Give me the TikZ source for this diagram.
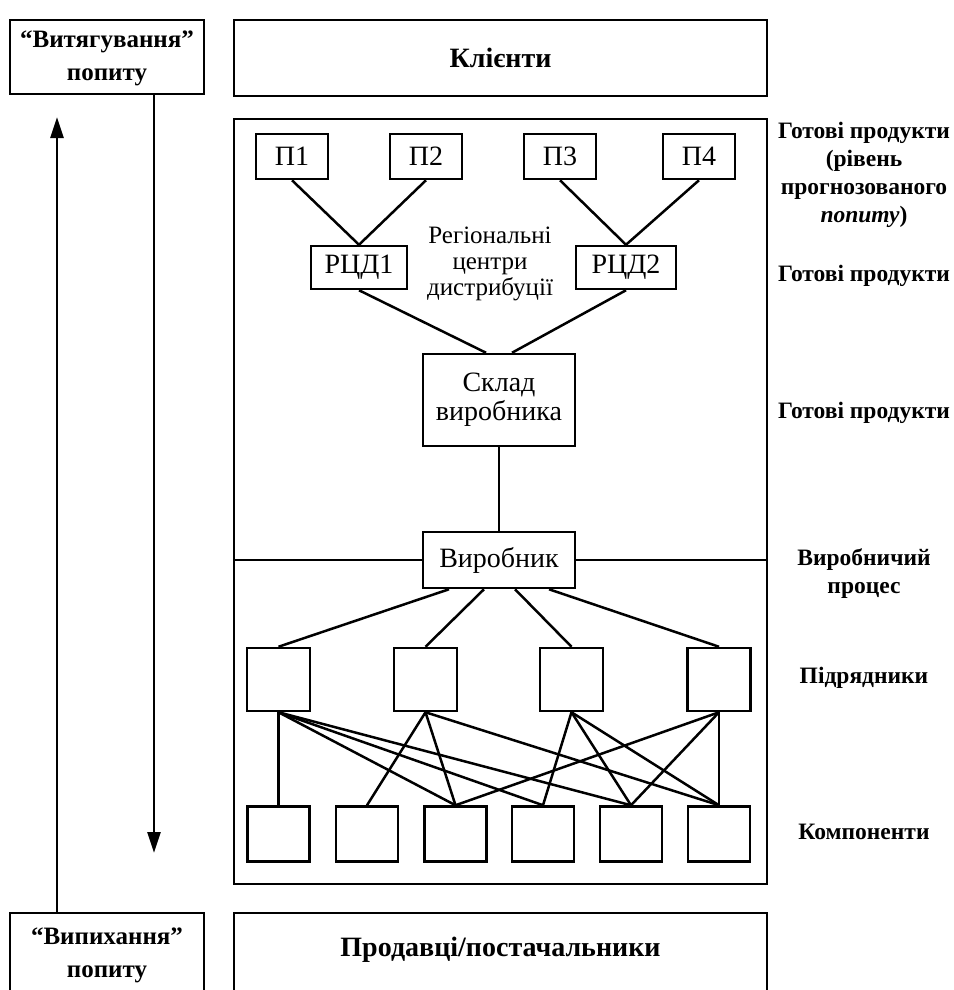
\documentclass[tikz,border=0pt]{standalone}
\usepackage{fontspec}
\setmainfont{Liberation Serif}
\usetikzlibrary{calc,arrows.meta}

\tikzset{
  frame/.style={draw, line width=2.5pt, inner sep=0pt, anchor=center},
  box/.style={frame, font=\fontsize{28}{29}\selectfont, align=center},
  headtext/.style={font=\bfseries\fontsize{25}{33}\selectfont, align=center, inner sep=0pt},
  tag/.style={font=\bfseries\fontsize{23.5}{28}\selectfont, align=center, inner sep=0pt},
  link/.style={line width=2.5pt},
  flow/.style={line width=2.6pt, -{Triangle[length=21pt,width=13pt]}},
}

\begin{document}
\begin{tikzpicture}[x=1pt,y=-1pt]
\useasboundingbox (0,0) rectangle (953,990);
\clip (0,0) rectangle (953,990);

% outer blocks
\node[frame, minimum width=194, minimum height=74] (pull) at (107,57) {};
\node[headtext] (pulltext) at (107,58) {“Витягування”\\попиту};
\node[frame, minimum width=533, minimum height=76] (clients) at (500.5,58) {};
\node[headtext, font=\bfseries\fontsize{28}{33}\selectfont] (clienttext) at (500.5,58) {Клієнти};
\node[frame, minimum width=533, minimum height=765] (main) at (500.5,501.5) {};
\node[frame, minimum width=194, minimum height=84] (push) at (107,955) {};
\node[frame, minimum width=533, minimum height=84] (vendors) at (500.5,955) {};
\node[headtext] (pushtext) at (107,955) {“Випихання”\\попиту};
\node[headtext, font=\bfseries\fontsize{28}{33}\selectfont] (vendtext) at (500.5,950)
  {Продавці/постачальники};

% demand arrows
\coordinate (uptip) at (57,117);
\coordinate (downtip) at (154,853);
\draw[flow] (push.north -| uptip) -- (uptip);
\draw[flow] (pull.south -| downtip) -- (downtip);

% finished goods
\foreach \n/\x in {1/292,2/426,3/560,4/699}
  \node[box, minimum width=72, minimum height=45] (p\n) at (\x,156.5) {П\n};
\node[box, minimum width=96, minimum height=43] (r1) at (359,267.5) {РЦД1};
\node[box, minimum width=100, minimum height=43] (r2) at (626,267.5) {РЦД2};
\node[font=\fontsize{25}{26}\selectfont, align=center, inner sep=0pt] (rlabel) at (490,264)
  {Регіональні\\центри\\дистрибуції};
\node[box, minimum width=152, minimum height=92] (store) at (499,400)
  {Склад\\виробника};
\node[box, minimum width=152, minimum height=56] (maker) at (499,560)
  {Виробник};

\draw[link] (p1.south) -- (r1.north);
\draw[link] (p2.south) -- (r1.north);
\draw[link] (p3.south) -- (r2.north);
\draw[link] (p4.south) -- (r2.north);
\draw[link] (r1.south) -- ($(store.north)+(-13,0)$);
\draw[link] (r2.south) -- ($(store.north)+(13,0)$);
\draw[link] (store.south) -- (maker.north);

% production divider
\draw[link] (main.west |- maker) -- (maker.west);
\draw[link] (maker.east) -- (main.east |- maker);

% subcontractors and components
\foreach \n/\x in {1/278.5,2/425.5,3/571.5,4/719}
  \node[frame, minimum width=63, minimum height=63] (s\n) at (\x,679.5) {};
\foreach \n/\x in {1/278.5,2/367,3/455.5,4/543,5/631,6/719}
  \node[frame, minimum width=62, minimum height=55] (c\n) at (\x,834) {};

\draw[link] ($(maker.south)+(-50,0)$) -- (s1.north);
\draw[link] ($(maker.south)+(-15,0)$) -- (s2.north);
\draw[link] ($(maker.south)+(16,0)$) -- (s3.north);
\draw[link] ($(maker.south)+(50,0)$) -- (s4.north);

\foreach \a/\b in {1/1,1/3,1/4,1/5,2/2,2/3,2/6,3/4,3/5,3/6,4/3,4/5,4/6}
  \draw[link] (s\a.south) -- (c\b.north);

% level captions
\node[tag] (t1) at (864,175)
  {Готові продукти\\(рівень\\прогнозованого\\\textit{попиту})};
\node[tag] (t2) at (864,276) {Готові продукти};
\node[tag] (t3) at (864,413) {Готові продукти};
\node[tag] (t4) at (864,574) {Виробничий\\процес};
\node[tag] (t5) at (864,678) {Підрядники};
\node[tag] (t6) at (864,832) {Компоненти};
\end{tikzpicture}
\end{document}
